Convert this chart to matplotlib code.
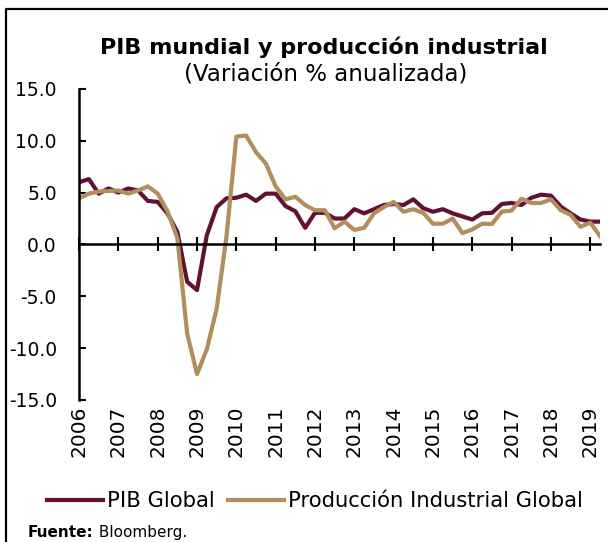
import numpy as np
import pandas as pd
from matplotlib import pyplot as plt
from matplotlib.lines import Line2D

# quarterly series, 2006Q1 - 2019Q2 (annualised % change)
quarters = pd.period_range('2006Q1', '2019Q2', freq='Q')
pib_global = [6.0, 6.3, 4.9, 5.4, 5.0, 5.4, 5.2, 4.2, 4.1, 3.0,
              1.2, -3.6, -4.4, 0.9, 3.6, 4.45, 4.5, 4.8, 4.2, 4.9,
              4.9, 3.7, 3.2, 1.6, 3.05, 3.05, 2.5, 2.5, 3.4, 3.0,
              3.4, 3.8, 3.9, 3.8, 4.35, 3.5, 3.15, 3.4, 3.0, 2.7,
              2.4, 3.0, 3.05, 3.9, 4.0, 3.8, 4.5, 4.8, 4.7, 3.65,
              3.0, 2.4, 2.2, 2.2]
prod_industrial = [4.45, 4.9, 5.1, 5.15, 5.2, 4.9, 5.2, 5.6, 4.9, 3.2,
                   0.6, -8.6, -12.5, -10.1, -6.2, 0.8, 10.4, 10.5, 8.9, 7.8,
                   5.6, 4.35, 4.6, 3.8, 3.3, 3.3, 1.55, 2.2, 1.4, 1.6,
                   3.0, 3.6, 4.1, 3.15, 3.4, 3.05, 2.0, 2.0, 2.5, 1.1,
                   1.45, 2.0, 1.97, 3.16, 3.26, 4.4, 4.0, 4.0, 4.35, 3.3,
                   2.85, 1.7, 2.1, 0.8]
years = list(range(2006, 2020))
yticks = [15, 10, 5, 0, -5, -10, -15]

GUINDA = '#621132'
DORADO = '#B38E5D'

plt.rcParams['font.family'] = ['DejaVu Sans']

x = quarters.year + (quarters.quarter - 1) / 4.0

fig = plt.figure(figsize=(6.08, 5.42), dpi=100)
ax = fig.add_axes([0.130, 0.262, 0.857, 0.574])

ax.plot(x, pib_global, color=GUINDA, lw=3.0, label='PIB Global')
ax.plot(x, prod_industrial, color=DORADO, lw=3.0, label='Producción Industrial Global')

ax.set_xlim(2006, x[-1])
ax.set_ylim(-15, 15)
ax.set_yticks(yticks)
ax.set_yticklabels([f'{v:.1f}' for v in yticks], fontsize=13.5)
ax.tick_params(axis='y', direction='in', length=5, width=1.5, pad=16)

ax.spines['top'].set_visible(False)
ax.spines['right'].set_visible(False)
ax.spines['left'].set_linewidth(1.8)
ax.spines['bottom'].set_linewidth(1.8)
ax.spines['bottom'].set_position(('data', 0))
ax.set_xticks(years)
ax.tick_params(axis='x', direction='inout', length=10, width=1.5, labelbottom=False)

# year labels sit under the plot, not on the zero line
sec = ax.secondary_xaxis(0)
sec.set_xticks(years)
sec.set_xticklabels([str(y) for y in years], rotation=90, fontsize=14.5)
sec.tick_params(length=0, pad=4)
sec.spines['bottom'].set_visible(False)

fig.text(0.533, 0.900, 'PIB mundial y producción industrial', ha='center',
         fontsize=16, fontweight='bold')
fig.text(0.536, 0.852, '(Variación % anualizada)', ha='center', fontsize=16.5)

fig.legend(loc='center', bbox_to_anchor=(0.518, 0.075), ncol=2, frameon=False,
           fontsize=15.2, handlelength=2.65, handletextpad=0.2, columnspacing=0.6)

t1 = fig.text(0.046, 0.010, 'Fuente:', fontsize=11, fontweight='bold')
ax.annotate(' Bloomberg.', xy=(1, 0), xycoords=t1, va='bottom', ha='left',
            fontsize=11, annotation_clip=False)

# frame of the original graphic
fig.add_artist(Line2D([6 / 608, 6 / 608, 1.01], [-0.01, 1 - 9 / 542, 1 - 9 / 542],
                      transform=fig.transFigure, color='black', lw=1.6))

fig.savefig('out.png', dpi=100)
